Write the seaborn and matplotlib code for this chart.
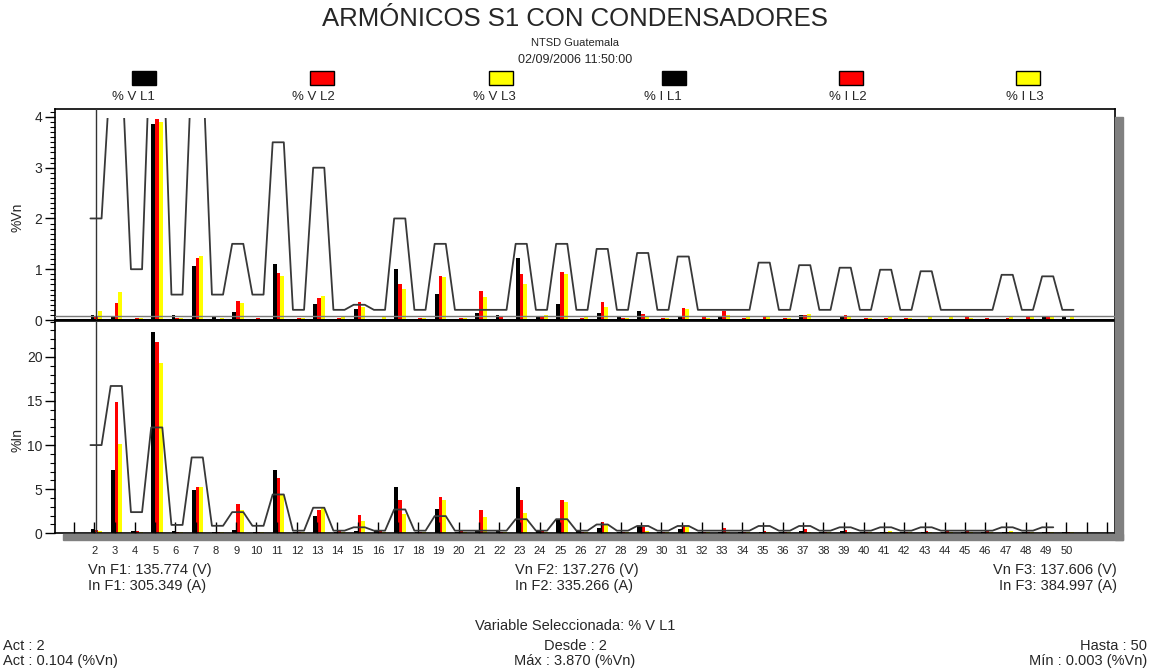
import matplotlib
matplotlib.use("Agg")
import matplotlib.pyplot as plt
from matplotlib.patches import Rectangle
from matplotlib.ticker import MultipleLocator
import pandas as pd
import seaborn as sns

# ---------------------------------------------------------------- data
harmonics = list(range(2, 51))

# voltage harmonics, % of fundamental (phases L1, L2, L3)
v_l1 = [0.104, 0.08, 0.02, 3.87, 0.09, 1.07, 0.06, 0.16, 0.003, 1.10,
        0.02, 0.31, 0.02, 0.22, 0.02, 1.00, 0.02, 0.51, 0.02, 0.13,
        0.09, 1.23, 0.05, 0.31, 0.02, 0.14, 0.06, 0.17, 0.02, 0.08,
        0.02, 0.06, 0.02, 0.02, 0.02, 0.09, 0.02, 0.06, 0.02, 0.02,
        0.02, 0.02, 0.02, 0.02, 0.02, 0.02, 0.02, 0.07, 0.06]
v_l2 = [0.05, 0.34, 0.04, 3.95, 0.03, 1.23, 0.02, 0.37, 0.04, 0.93,
        0.04, 0.43, 0.04, 0.36, 0.02, 0.70, 0.04, 0.87, 0.04, 0.57,
        0.05, 0.91, 0.05, 0.95, 0.04, 0.35, 0.03, 0.12, 0.03, 0.23,
        0.05, 0.17, 0.03, 0.05, 0.03, 0.09, 0.02, 0.10, 0.03, 0.03,
        0.03, 0.02, 0.02, 0.05, 0.03, 0.03, 0.05, 0.05, 0.02]
v_l3 = [0.18, 0.56, 0.03, 3.90, 0.03, 1.26, 0.03, 0.33, 0.02, 0.87,
        0.03, 0.48, 0.05, 0.26, 0.06, 0.61, 0.03, 0.84, 0.04, 0.45,
        0.02, 0.71, 0.09, 0.91, 0.06, 0.25, 0.04, 0.06, 0.03, 0.21,
        0.03, 0.10, 0.05, 0.08, 0.03, 0.11, 0.02, 0.07, 0.03, 0.05,
        0.04, 0.05, 0.05, 0.04, 0.02, 0.05, 0.05, 0.05, 0.07]
# voltage limits, %Vn (h = 2..50)
v_limit = [2.0, 5.0, 1.0, 6.0, 0.5, 5.0, 0.5, 1.5, 0.5, 3.5,
           0.2, 3.0, 0.2, 0.3, 0.2, 2.0, 0.2, 1.5, 0.2, 0.2,
           0.2, 1.5, 0.2, 1.5, 0.2, 1.40, 0.2, 1.32, 0.2, 1.25,
           0.2, 0.2, 0.2, 1.13, 0.2, 1.08, 0.2, 1.03, 0.2, 0.99,
           0.2, 0.96, 0.2, 0.2, 0.2, 0.89, 0.2, 0.86, 0.2]

# current harmonics, % of fundamental (phases L1, L2, L3)
i_l1 = [0.5, 7.2, 0.3, 22.8, 0.25, 4.9, 0.1, 0.4, 0.2, 7.2,
        0.1, 2.0, 0.1, 0.3, 0.4, 5.2, 0.1, 2.8, 0.1, 0.3,
        0.3, 5.2, 0.3, 1.6, 0.3, 0.6, 0.1, 0.8, 0.1, 0.5,
        0.1, 0.2, 0.1, 0.2, 0.1, 0.3, 0.1, 0.3, 0.1, 0.1,
        0.1, 0.1, 0.1, 0.1, 0.1, 0.1, 0.1, 0.1, 0.1]
i_l2 = [0.4, 14.9, 0.3, 21.7, 0.1, 5.2, 0.2, 3.3, 0.1, 6.3,
        0.1, 2.6, 0.3, 2.1, 0.3, 3.8, 0.2, 4.1, 0.3, 2.6,
        0.2, 3.8, 0.3, 3.8, 0.2, 1.3, 0.2, 0.7, 0.2, 0.8,
        0.2, 0.6, 0.1, 0.3, 0.1, 0.5, 0.1, 0.4, 0.1, 0.1,
        0.1, 0.3, 0.3, 0.3, 0.3, 0.1, 0.1, 0.1, 0.1]
i_l3 = [0.25, 10.1, 0.2, 19.3, 0.2, 5.2, 0.1, 2.6, 0.1, 4.3,
        0.1, 2.9, 0.1, 1.4, 0.1, 2.2, 0.1, 3.8, 0.1, 1.8,
        0.1, 2.3, 0.1, 3.5, 0.1, 0.9, 0.1, 0.3, 0.1, 0.7,
        0.1, 0.2, 0.1, 0.2, 0.1, 0.2, 0.1, 0.2, 0.1, 0.3,
        0.1, 0.2, 0.1, 0.2, 0.1, 0.3, 0.2, 0.2, 0.1]
# current limits, %In (h = 2..49)
i_limit_h = list(range(2, 50))
i_limit = [10.0, 16.7, 2.4, 12.0, 0.95, 8.6, 0.85, 2.4, 0.85, 4.4,
           0.3, 2.9, 0.3, 0.68, 0.3, 2.7, 0.3, 1.95, 0.3, 0.3,
           0.3, 1.6, 0.3, 1.6, 0.3, 1.0, 0.3, 0.83, 0.3, 0.83,
           0.3, 0.3, 0.3, 0.83, 0.3, 0.83, 0.3, 0.68, 0.3, 0.68,
           0.3, 0.68, 0.3, 0.3, 0.3, 0.68, 0.3, 0.68]

legend_labels = ["% V L1", "% V L2", "% V L3", "% I L1", "% I L2", "% I L3"]
phase_colors = ["#000000", "#ff0000", "#ffff00"]

selected_h = 2

# ---------------------------------------------------------------- style
sns.set_theme(style="white")
plt.rcParams["font.family"] = ["Liberation Sans", "DejaVu Sans"]

W, H = 1150, 670
fig = plt.figure(figsize=(W / 100, H / 100), dpi=100)
fig.patch.set_facecolor("white")


def fx(px):
    return px / W


def fy(py):
    return 1 - py / H


LEFT, RIGHT = 55, 1115
ax_v = fig.add_axes([fx(LEFT), fy(320), (RIGHT - LEFT) / W, (320 - 109.3) / H])
ax_i = fig.add_axes([fx(LEFT), fy(533.3), (RIGHT - LEFT) / W, (533.3 - 320.7) / H])

# drop shadow of the plot frame
shadow = "#808080"
fig.patches.append(Rectangle((fx(1115), fy(540)), 8 / W, (540 - 117) / H,
                             transform=fig.transFigure, color=shadow, zorder=0))
fig.patches.append(Rectangle((fx(63), fy(540)), (1123 - 63) / W, 6.5 / H,
                             transform=fig.transFigure, color=shadow, zorder=0))

BAR_W = 0.19
OFFSETS = [-0.10, 0.09, 0.28]
PLATEAU = (-0.2, 0.35)


def draw_bars(ax, series):
    for vals, off, col in zip(series, OFFSETS, phase_colors):
        ax.bar([h + off for h in harmonics], vals, width=BAR_W, color=col,
               linewidth=0, zorder=2)


def draw_limit(ax, hs, limits, clip_top=None):
    xs, ys = [], []
    for h, v in zip(hs, limits):
        xs += [h + PLATEAU[0], h + PLATEAU[1]]
        ys += [v, v]
    df = pd.DataFrame({"armonico": xs, "limite": ys})
    sns.lineplot(data=df, x="armonico", y="limite", sort=False, estimator=None,
                 color="#383838", linewidth=1.3, ax=ax, zorder=3)
    line = ax.lines[-1]
    if clip_top is not None:
        clip = Rectangle((-5, -5), 70, clip_top + 5, transform=ax.transData)
        line.set_clip_path(clip)


draw_bars(ax_v, [v_l1, v_l2, v_l3])
draw_limit(ax_v, harmonics, v_limit, clip_top=3.97)
draw_bars(ax_i, [i_l1, i_l2, i_l3])
draw_limit(ax_i, i_limit_h, i_limit)

for ax in (ax_v, ax_i):
    ax.set_xlim(0.05, 52.4)
    ax.axvline(selected_h + 0.07, color="#333333", linewidth=1.0, zorder=4)
    ax.set_xlabel("")
    ax.set_ylabel("")
    ax.set_facecolor("white")
    for s in ax.spines.values():
        s.set_visible(True)
        s.set_color("black")
        s.set_linewidth(1.2)
    ax.tick_params(axis="y", which="major", direction="out", length=7,
                   width=1, color="black", labelsize=10, pad=2, left=True)
    ax.tick_params(axis="y", which="minor", direction="out", length=3.5,
                   width=0.8, color="black", left=True)

# voltage panel
ax_v.set_ylim(0, 4.15)
ax_v.yaxis.set_major_locator(MultipleLocator(1))
ax_v.yaxis.set_minor_locator(MultipleLocator(0.1))
ax_v.set_xticks([])
ax_v.spines["bottom"].set_linewidth(2.2)
ax_v.axhline(0.085, color="#7a7a7a", linewidth=1.0, zorder=3)

# current panel
ax_i.set_ylim(0, 24.1)
ax_i.yaxis.set_major_locator(MultipleLocator(5))
ax_i.yaxis.set_minor_locator(MultipleLocator(1))
ticks = list(range(1, 53))
ax_i.set_xticks(ticks)
ax_i.set_xticklabels([str(t) if t in harmonics else "" for t in ticks])
ax_i.tick_params(axis="x", which="major", direction="in", length=8, width=1,
                 color="black", labelsize=8, pad=9, bottom=True)
ax_i.set_axisbelow(False)

fig.text(fx(18), fy(217), "%Vn", rotation=90, ha="center", va="center", fontsize=10)
fig.text(fx(18), fy(440), "%In", rotation=90, ha="center", va="center", fontsize=10)

# ---------------------------------------------------------------- header
fig.text(0.5, fy(19), "ARMÓNICOS S1 CON CONDENSADORES", ha="center", va="center",
         fontsize=18.5)
fig.text(0.5, fy(43), "NTSD Guatemala", ha="center", va="center", fontsize=8)
fig.text(0.5, fy(60), "02/09/2006 11:50:00", ha="center", va="center", fontsize=9)

sq_x = [144, 322, 501, 674, 851, 1028]
lab_x = [133, 313, 494, 663, 848, 1025]
sq_colors = phase_colors + phase_colors
for sx, lx, col, lab in zip(sq_x, lab_x, sq_colors, legend_labels):
    fig.patches.append(Rectangle((fx(sx - 12), fy(85)), 24 / W, 14 / H,
                                 transform=fig.transFigure, facecolor=col,
                                 edgecolor="black", linewidth=1.0))
    fig.text(fx(lx), fy(97), lab, ha="center", va="center", fontsize=9.5)

# ---------------------------------------------------------------- footer
fs = 10.5
fig.text(fx(88), fy(570), "Vn F1: 135.774 (V)", ha="left", va="center", fontsize=fs)
fig.text(fx(88), fy(586), "In F1: 305.349 (A)", ha="left", va="center", fontsize=fs)
fig.text(fx(515), fy(570), "Vn F2: 137.276 (V)", ha="left", va="center", fontsize=fs)
fig.text(fx(515), fy(586), "In F2: 335.266 (A)", ha="left", va="center", fontsize=fs)
fig.text(fx(1117), fy(570), "Vn F3: 137.606 (V)", ha="right", va="center", fontsize=fs)
fig.text(fx(1117), fy(586), "In F3: 384.997 (A)", ha="right", va="center", fontsize=fs)

fig.text(0.5, fy(626), "Variable Seleccionada: % V L1", ha="center", va="center", fontsize=fs)
fig.text(fx(3), fy(646), f"Act : {selected_h}", ha="left", va="center", fontsize=fs)
fig.text(fx(3), fy(661), f"Act : {v_l1[0]:.3f} (%Vn)", ha="left", va="center", fontsize=fs)
fig.text(0.5, fy(646), f"Desde : {harmonics[0]}", ha="center", va="center", fontsize=fs)
fig.text(0.5, fy(661), f"Máx : {max(v_l1):.3f} (%Vn)", ha="center", va="center", fontsize=fs)
fig.text(fx(1147), fy(646), f"Hasta : {harmonics[-1]}", ha="right", va="center", fontsize=fs)
fig.text(fx(1147), fy(661), f"Mín : {min(v_l1):.3f} (%Vn)", ha="right", va="center", fontsize=fs)

fig.savefig("out.png", dpi=100, facecolor="white")
